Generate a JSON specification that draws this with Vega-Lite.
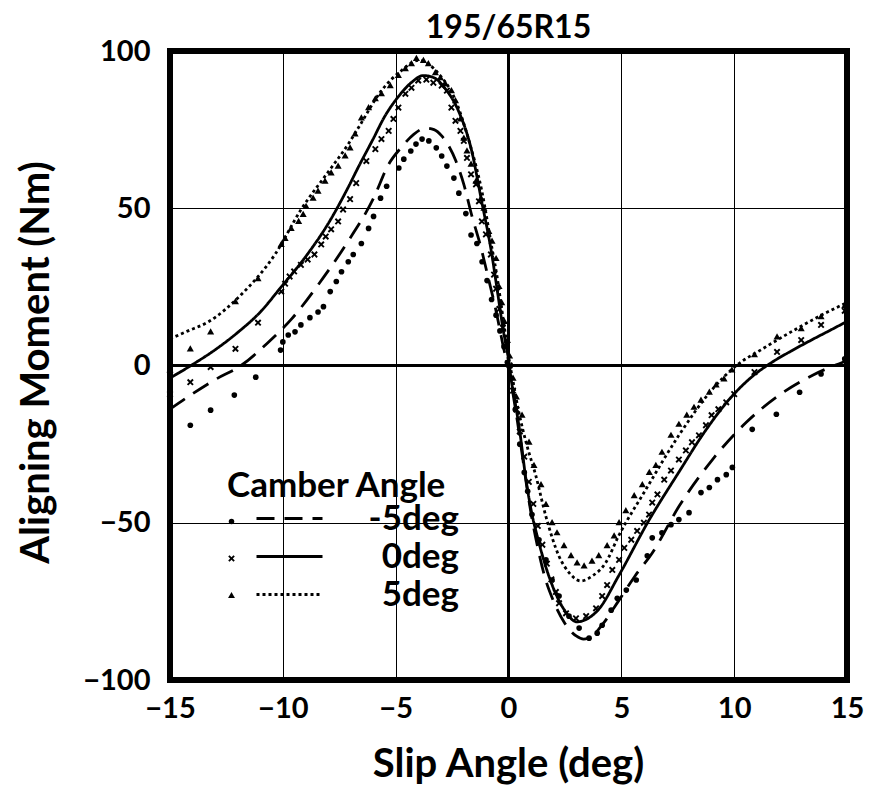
{
  "$schema": "https://vega.github.io/schema/vega-lite/v6.json",
  "autosize": {"type": "none"},
  "padding": {"left": 170, "top": 51, "right": 22, "bottom": 107},
  "width": 677,
  "height": 629,
  "background": "white",
  "title": {"text": "195/65R15", "font": "Lato", "fontSize": 32, "fontWeight": "bold", "color": "black", "anchor": "middle", "offset": -8},
  "config": {
    "view": {"stroke": "black", "strokeWidth": 6},
    "axis": {"labelFont": "Lato", "labelFontWeight": "bold", "labelFontSize": 29, "labelColor": "black", "titleFont": "Lato", "titleFontWeight": "bold", "titleFontSize": 40, "titleColor": "black", "grid": true, "gridColor": "black", "gridWidth": 1, "gridOpacity": 1, "ticks": false, "domain": false, "labelFlush": false, "labelOverlap": false, "labelBound": false},
    "legend": {"labelFont": "Lato", "labelFontWeight": "bold", "labelFontSize": 35, "labelColor": "black", "titleFont": "Lato", "titleFontWeight": "bold", "titleFontSize": 35, "titleColor": "black", "padding": 0, "titleLimit": 500, "labelLimit": 300}
  },
  "datasets": {
    "pts": [
      {"s": -15, "m": -23.8, "c": "-5deg"}, {"s": -14.1, "m": -19, "c": "-5deg"}, {"s": -13.2, "m": -14.2, "c": "-5deg"}, {"s": -12.15, "m": -9.4, "c": "-5deg"}, {"s": -11.2, "m": -3.7, "c": "-5deg"}, {"s": -10.1, "m": 4.9, "c": "-5deg"}, {"s": -10.0, "m": 7.5, "c": "-5deg"}, {"s": -9.76, "m": 9.7, "c": "-5deg"}, {"s": -9.46, "m": 10.7, "c": "-5deg"}, {"s": -9.2, "m": 12.9, "c": "-5deg"}, {"s": -8.8, "m": 15.2, "c": "-5deg"}, {"s": -8.44, "m": 17, "c": "-5deg"}, {"s": -8.2, "m": 18.7, "c": "-5deg"}, {"s": -7.9, "m": 23.5, "c": "-5deg"}, {"s": -7.63, "m": 26.7, "c": "-5deg"}, {"s": -7.4, "m": 29.8, "c": "-5deg"}, {"s": -7.1, "m": 33, "c": "-5deg"}, {"s": -6.88, "m": 35.3, "c": "-5deg"}, {"s": -6.52, "m": 38.8, "c": "-5deg"}, {"s": -6.2, "m": 43.6, "c": "-5deg"}, {"s": -5.98, "m": 47.4, "c": "-5deg"}, {"s": -5.67, "m": 53.2, "c": "-5deg"}, {"s": -5.4, "m": 57, "c": "-5deg"}, {"s": -4.86, "m": 62.8, "c": "-5deg"}, {"s": -4.64, "m": 65.6, "c": "-5deg"}, {"s": -4.33, "m": 68.2, "c": "-5deg"}, {"s": -4.1, "m": 70.4, "c": "-5deg"}, {"s": -3.83, "m": 72, "c": "-5deg"}, {"s": -3.53, "m": 71.4, "c": "-5deg"}, {"s": -3.2, "m": 69.2, "c": "-5deg"}, {"s": -2.96, "m": 66.6, "c": "-5deg"}, {"s": -2.73, "m": 63.4, "c": "-5deg"}, {"s": -2.42, "m": 59.6, "c": "-5deg"}, {"s": -2.2, "m": 54.8, "c": "-5deg"}, {"s": -1.89, "m": 48.3, "c": "-5deg"}, {"s": -1.66, "m": 41.5, "c": "-5deg"}, {"s": -1.4, "m": 38.8, "c": "-5deg"}, {"s": -1.17, "m": 33, "c": "-5deg"}, {"s": -0.95, "m": 27, "c": "-5deg"}, {"s": -0.75, "m": 21, "c": "-5deg"}, {"s": -0.55, "m": 16, "c": "-5deg"}, {"s": -0.38, "m": 11, "c": "-5deg"}, {"s": -0.2, "m": 6, "c": "-5deg"}, {"s": -0.05, "m": 1, "c": "-5deg"}, {"s": 0.1, "m": -4, "c": "-5deg"}, {"s": 0.3, "m": -14, "c": "-5deg"}, {"s": 0.5, "m": -25, "c": "-5deg"}, {"s": 0.7, "m": -34, "c": "-5deg"}, {"s": 0.85, "m": -40, "c": "-5deg"}, {"s": 1.04, "m": -47.4, "c": "-5deg"}, {"s": 1.35, "m": -55.4, "c": "-5deg"}, {"s": 1.66, "m": -61.8, "c": "-5deg"}, {"s": 1.93, "m": -68.2, "c": "-5deg"}, {"s": 2.24, "m": -73.3, "c": "-5deg"}, {"s": 2.68, "m": -79.7, "c": "-5deg"}, {"s": 3.13, "m": -83.5, "c": "-5deg"}, {"s": 3.57, "m": -86.7, "c": "-5deg"}, {"s": 3.93, "m": -85.1, "c": "-5deg"}, {"s": 4.15, "m": -82.6, "c": "-5deg"}, {"s": 4.55, "m": -77.8, "c": "-5deg"}, {"s": 4.82, "m": -74, "c": "-5deg"}, {"s": 5.22, "m": -71.4, "c": "-5deg"}, {"s": 5.66, "m": -68.2, "c": "-5deg"}, {"s": 6.15, "m": -60.5, "c": "-5deg"}, {"s": 6.37, "m": -54.8, "c": "-5deg"}, {"s": 6.8, "m": -53.2, "c": "-5deg"}, {"s": 7.2, "m": -50.6, "c": "-5deg"}, {"s": 7.55, "m": -49, "c": "-5deg"}, {"s": 8.0, "m": -46.8, "c": "-5deg"}, {"s": 8.53, "m": -40.4, "c": "-5deg"}, {"s": 8.9, "m": -38.8, "c": "-5deg"}, {"s": 9.26, "m": -36.3, "c": "-5deg"}, {"s": 9.65, "m": -34.7, "c": "-5deg"}, {"s": 9.92, "m": -32.4, "c": "-5deg"}, {"s": 10.8, "m": -20.3, "c": "-5deg"}, {"s": 11.87, "m": -15.5, "c": "-5deg"}, {"s": 12.9, "m": -8.5, "c": "-5deg"}, {"s": 13.85, "m": -2.7, "c": "-5deg"}, {"s": 14.9, "m": 2.1, "c": "-5deg"},
      {"s": -15, "m": -9.1, "c": "0deg"}, {"s": -14.1, "m": -5.3, "c": "0deg"}, {"s": -13.2, "m": -0.5, "c": "0deg"}, {"s": -12.1, "m": 5.3, "c": "0deg"}, {"s": -11.1, "m": 13.6, "c": "0deg"}, {"s": -10.07, "m": 23.5, "c": "0deg"}, {"s": -9.9, "m": 26, "c": "0deg"}, {"s": -9.7, "m": 28.3, "c": "0deg"}, {"s": -9.5, "m": 29.9, "c": "0deg"}, {"s": -9.2, "m": 32, "c": "0deg"}, {"s": -8.9, "m": 33.7, "c": "0deg"}, {"s": -8.6, "m": 35.3, "c": "0deg"}, {"s": -8.3, "m": 38.5, "c": "0deg"}, {"s": -8.1, "m": 41, "c": "0deg"}, {"s": -7.86, "m": 43.3, "c": "0deg"}, {"s": -7.55, "m": 45.8, "c": "0deg"}, {"s": -7.33, "m": 49.6, "c": "0deg"}, {"s": -7.02, "m": 52.9, "c": "0deg"}, {"s": -6.75, "m": 58, "c": "0deg"}, {"s": -6.3, "m": 65, "c": "0deg"}, {"s": -5.9, "m": 68.8, "c": "0deg"}, {"s": -5.63, "m": 72, "c": "0deg"}, {"s": -5.31, "m": 74.6, "c": "0deg"}, {"s": -5.1, "m": 78.4, "c": "0deg"}, {"s": -4.88, "m": 82, "c": "0deg"}, {"s": -4.57, "m": 86.4, "c": "0deg"}, {"s": -4.3, "m": 88.3, "c": "0deg"}, {"s": -4.0, "m": 90.6, "c": "0deg"}, {"s": -3.64, "m": 90.9, "c": "0deg"}, {"s": -3.33, "m": 89.9, "c": "0deg"}, {"s": -2.96, "m": 89, "c": "0deg"}, {"s": -2.73, "m": 87.4, "c": "0deg"}, {"s": -2.53, "m": 82, "c": "0deg"}, {"s": -2.35, "m": 77.8, "c": "0deg"}, {"s": -2.13, "m": 74.6, "c": "0deg"}, {"s": -1.98, "m": 71.4, "c": "0deg"}, {"s": -1.84, "m": 66, "c": "0deg"}, {"s": -1.66, "m": 60.8, "c": "0deg"}, {"s": -1.44, "m": 57.6, "c": "0deg"}, {"s": -1.31, "m": 52.2, "c": "0deg"}, {"s": -1.18, "m": 45.8, "c": "0deg"}, {"s": -1.0, "m": 41.7, "c": "0deg"}, {"s": -0.78, "m": 35.3, "c": "0deg"}, {"s": -0.64, "m": 28.9, "c": "0deg"}, {"s": -0.55, "m": 24.4, "c": "0deg"}, {"s": -0.4, "m": 18, "c": "0deg"}, {"s": -0.25, "m": 12, "c": "0deg"}, {"s": -0.1, "m": 6, "c": "0deg"}, {"s": 0.05, "m": 0, "c": "0deg"}, {"s": 0.2, "m": -8, "c": "0deg"}, {"s": 0.35, "m": -14, "c": "0deg"}, {"s": 0.5, "m": -21, "c": "0deg"}, {"s": 0.7, "m": -29, "c": "0deg"}, {"s": 0.9, "m": -37, "c": "0deg"}, {"s": 1.1, "m": -44, "c": "0deg"}, {"s": 1.3, "m": -51, "c": "0deg"}, {"s": 1.5, "m": -57, "c": "0deg"}, {"s": 1.7, "m": -63, "c": "0deg"}, {"s": 1.9, "m": -68, "c": "0deg"}, {"s": 2.1, "m": -72, "c": "0deg"}, {"s": 2.24, "m": -75.6, "c": "0deg"}, {"s": 2.55, "m": -78.8, "c": "0deg"}, {"s": 2.99, "m": -80.4, "c": "0deg"}, {"s": 3.44, "m": -79.7, "c": "0deg"}, {"s": 3.88, "m": -77.2, "c": "0deg"}, {"s": 4.15, "m": -73.3, "c": "0deg"}, {"s": 4.37, "m": -69.8, "c": "0deg"}, {"s": 4.6, "m": -65, "c": "0deg"}, {"s": 4.9, "m": -61.8, "c": "0deg"}, {"s": 5.13, "m": -58, "c": "0deg"}, {"s": 5.44, "m": -55.4, "c": "0deg"}, {"s": 5.7, "m": -52.6, "c": "0deg"}, {"s": 6.0, "m": -50, "c": "0deg"}, {"s": 6.23, "m": -47.4, "c": "0deg"}, {"s": 6.37, "m": -43.6, "c": "0deg"}, {"s": 6.6, "m": -41, "c": "0deg"}, {"s": 6.9, "m": -36.3, "c": "0deg"}, {"s": 7.2, "m": -33.4, "c": "0deg"}, {"s": 7.55, "m": -29.9, "c": "0deg"}, {"s": 7.86, "m": -27, "c": "0deg"}, {"s": 8.13, "m": -24.4, "c": "0deg"}, {"s": 8.44, "m": -22.2, "c": "0deg"}, {"s": 8.75, "m": -19, "c": "0deg"}, {"s": 9.0, "m": -15.8, "c": "0deg"}, {"s": 9.3, "m": -13.9, "c": "0deg"}, {"s": 9.65, "m": -11.7, "c": "0deg"}, {"s": 10.0, "m": -9.1, "c": "0deg"}, {"s": 10.9, "m": -2.1, "c": "0deg"}, {"s": 11.9, "m": 4.3, "c": "0deg"}, {"s": 12.97, "m": 8.1, "c": "0deg"}, {"s": 13.85, "m": 12.9, "c": "0deg"}, {"s": 14.9, "m": 17.4, "c": "0deg"},
      {"s": -15, "m": -1.4, "c": "5deg"}, {"s": -14.1, "m": 5.3, "c": "5deg"}, {"s": -13.2, "m": 10.7, "c": "5deg"}, {"s": -12.1, "m": 20.3, "c": "5deg"}, {"s": -11.1, "m": 27.6, "c": "5deg"}, {"s": -10.07, "m": 38.5, "c": "5deg"}, {"s": -9.9, "m": 40.4, "c": "5deg"}, {"s": -9.63, "m": 43.6, "c": "5deg"}, {"s": -9.3, "m": 45.8, "c": "5deg"}, {"s": -9.1, "m": 48, "c": "5deg"}, {"s": -8.97, "m": 50.6, "c": "5deg"}, {"s": -8.66, "m": 53.2, "c": "5deg"}, {"s": -8.44, "m": 55.4, "c": "5deg"}, {"s": -8.13, "m": 58.6, "c": "5deg"}, {"s": -7.86, "m": 61.2, "c": "5deg"}, {"s": -7.55, "m": 63.4, "c": "5deg"}, {"s": -7.24, "m": 66.6, "c": "5deg"}, {"s": -7.02, "m": 69.2, "c": "5deg"}, {"s": -6.8, "m": 73.6, "c": "5deg"}, {"s": -6.52, "m": 78.7, "c": "5deg"}, {"s": -6.2, "m": 82, "c": "5deg"}, {"s": -5.9, "m": 84.8, "c": "5deg"}, {"s": -5.63, "m": 86.4, "c": "5deg"}, {"s": -5.24, "m": 89, "c": "5deg"}, {"s": -4.88, "m": 92.2, "c": "5deg"}, {"s": -4.57, "m": 94.4, "c": "5deg"}, {"s": -4.3, "m": 96, "c": "5deg"}, {"s": -4.08, "m": 97.6, "c": "5deg"}, {"s": -3.77, "m": 97, "c": "5deg"}, {"s": -3.55, "m": 96, "c": "5deg"}, {"s": -3.24, "m": 93.1, "c": "5deg"}, {"s": -3.02, "m": 91.5, "c": "5deg"}, {"s": -2.8, "m": 89.6, "c": "5deg"}, {"s": -2.53, "m": 87.4, "c": "5deg"}, {"s": -2.35, "m": 84.2, "c": "5deg"}, {"s": -2.13, "m": 78.4, "c": "5deg"}, {"s": -1.98, "m": 72.3, "c": "5deg"}, {"s": -1.84, "m": 68.2, "c": "5deg"}, {"s": -1.66, "m": 64, "c": "5deg"}, {"s": -1.44, "m": 58.6, "c": "5deg"}, {"s": -1.22, "m": 53.2, "c": "5deg"}, {"s": -1.09, "m": 50, "c": "5deg"}, {"s": -0.87, "m": 42.6, "c": "5deg"}, {"s": -0.73, "m": 39.5, "c": "5deg"}, {"s": -0.55, "m": 34, "c": "5deg"}, {"s": -0.42, "m": 25.1, "c": "5deg"}, {"s": -0.3, "m": 20, "c": "5deg"}, {"s": -0.18, "m": 14, "c": "5deg"}, {"s": -0.05, "m": 8, "c": "5deg"}, {"s": 0.05, "m": 3, "c": "5deg"}, {"s": 0.2, "m": -4, "c": "5deg"}, {"s": 0.35, "m": -10, "c": "5deg"}, {"s": 0.6, "m": -15.8, "c": "5deg"}, {"s": 0.91, "m": -24.4, "c": "5deg"}, {"s": 1.13, "m": -31.8, "c": "5deg"}, {"s": 1.44, "m": -37.9, "c": "5deg"}, {"s": 1.66, "m": -44.2, "c": "5deg"}, {"s": 1.93, "m": -50, "c": "5deg"}, {"s": 2.15, "m": -53.2, "c": "5deg"}, {"s": 2.46, "m": -57.3, "c": "5deg"}, {"s": 2.77, "m": -60.5, "c": "5deg"}, {"s": 3.04, "m": -62.8, "c": "5deg"}, {"s": 3.35, "m": -63.7, "c": "5deg"}, {"s": 3.7, "m": -62.2, "c": "5deg"}, {"s": 4.0, "m": -60.5, "c": "5deg"}, {"s": 4.37, "m": -57.3, "c": "5deg"}, {"s": 4.68, "m": -54.2, "c": "5deg"}, {"s": 4.9, "m": -50, "c": "5deg"}, {"s": 5.2, "m": -46.2, "c": "5deg"}, {"s": 5.57, "m": -41.4, "c": "5deg"}, {"s": 5.93, "m": -37.9, "c": "5deg"}, {"s": 6.24, "m": -34, "c": "5deg"}, {"s": 6.53, "m": -31.8, "c": "5deg"}, {"s": 6.8, "m": -27.6, "c": "5deg"}, {"s": 7.2, "m": -22.2, "c": "5deg"}, {"s": 7.55, "m": -18.7, "c": "5deg"}, {"s": 7.9, "m": -15.8, "c": "5deg"}, {"s": 8.22, "m": -13.3, "c": "5deg"}, {"s": 8.53, "m": -11, "c": "5deg"}, {"s": 8.9, "m": -8.5, "c": "5deg"}, {"s": 9.2, "m": -6.2, "c": "5deg"}, {"s": 9.55, "m": -4.3, "c": "5deg"}, {"s": 9.9, "m": -1.4, "c": "5deg"}, {"s": 10.9, "m": 3.4, "c": "5deg"}, {"s": 11.9, "m": 9.1, "c": "5deg"}, {"s": 12.97, "m": 11.7, "c": "5deg"}, {"s": 13.85, "m": 15.5, "c": "5deg"}, {"s": 14.9, "m": 19, "c": "5deg"}
    ],
    "fit": [
      {"s": -15, "m": -13.9, "c": "-5deg"}, {"s": -14, "m": -9, "c": "-5deg"}, {"s": -13, "m": -4.5, "c": "-5deg"}, {"s": -11.85, "m": 0, "c": "-5deg"}, {"s": -10.7, "m": 7, "c": "-5deg"}, {"s": -9.6, "m": 14.9, "c": "-5deg"}, {"s": -8.4, "m": 26, "c": "-5deg"}, {"s": -7.2, "m": 38.5, "c": "-5deg"}, {"s": -5.98, "m": 53.2, "c": "-5deg"}, {"s": -5.31, "m": 64, "c": "-5deg"}, {"s": -4.73, "m": 69.5, "c": "-5deg"}, {"s": -4.2, "m": 73.5, "c": "-5deg"}, {"s": -3.67, "m": 75.5, "c": "-5deg"}, {"s": -3.3, "m": 75, "c": "-5deg"}, {"s": -2.96, "m": 73, "c": "-5deg"}, {"s": -2.33, "m": 65, "c": "-5deg"}, {"s": -1.98, "m": 57.6, "c": "-5deg"}, {"s": -1.62, "m": 47.5, "c": "-5deg"}, {"s": -1.22, "m": 37.5, "c": "-5deg"}, {"s": -1.0, "m": 31, "c": "-5deg"}, {"s": -0.8, "m": 25, "c": "-5deg"}, {"s": -0.6, "m": 19, "c": "-5deg"}, {"s": -0.4, "m": 12, "c": "-5deg"}, {"s": -0.2, "m": 5, "c": "-5deg"}, {"s": 0, "m": -1, "c": "-5deg"}, {"s": 0.2, "m": -9, "c": "-5deg"}, {"s": 0.4, "m": -18, "c": "-5deg"}, {"s": 0.6, "m": -28, "c": "-5deg"}, {"s": 0.8, "m": -38, "c": "-5deg"}, {"s": 1.0, "m": -47, "c": "-5deg"}, {"s": 1.3, "m": -58, "c": "-5deg"}, {"s": 1.6, "m": -67, "c": "-5deg"}, {"s": 2.0, "m": -75, "c": "-5deg"}, {"s": 2.5, "m": -82, "c": "-5deg"}, {"s": 3.0, "m": -86, "c": "-5deg"}, {"s": 3.33, "m": -87, "c": "-5deg"}, {"s": 3.7, "m": -86, "c": "-5deg"}, {"s": 4.2, "m": -82, "c": "-5deg"}, {"s": 4.9, "m": -74.6, "c": "-5deg"}, {"s": 5.6, "m": -67, "c": "-5deg"}, {"s": 6.37, "m": -59.6, "c": "-5deg"}, {"s": 7.57, "m": -44.6, "c": "-5deg"}, {"s": 9.04, "m": -29.9, "c": "-5deg"}, {"s": 10.55, "m": -18, "c": "-5deg"}, {"s": 12.0, "m": -9.4, "c": "-5deg"}, {"s": 13.5, "m": -3, "c": "-5deg"}, {"s": 15, "m": 1.5, "c": "-5deg"},
      {"s": -15, "m": -4, "c": "0deg"}, {"s": -14.07, "m": 0, "c": "0deg"}, {"s": -13, "m": 5, "c": "0deg"}, {"s": -12, "m": 10.5, "c": "0deg"}, {"s": -11, "m": 17, "c": "0deg"}, {"s": -10.07, "m": 25, "c": "0deg"}, {"s": -9, "m": 34.5, "c": "0deg"}, {"s": -8, "m": 45, "c": "0deg"}, {"s": -7.1, "m": 56.7, "c": "0deg"}, {"s": -6.66, "m": 63, "c": "0deg"}, {"s": -6, "m": 72, "c": "0deg"}, {"s": -5.5, "m": 79, "c": "0deg"}, {"s": -4.88, "m": 85.5, "c": "0deg"}, {"s": -4.3, "m": 90, "c": "0deg"}, {"s": -3.77, "m": 92.2, "c": "0deg"}, {"s": -3.3, "m": 91.5, "c": "0deg"}, {"s": -2.8, "m": 88, "c": "0deg"}, {"s": -2.22, "m": 81, "c": "0deg"}, {"s": -1.64, "m": 68.5, "c": "0deg"}, {"s": -1.2, "m": 52.6, "c": "0deg"}, {"s": -0.75, "m": 35.8, "c": "0deg"}, {"s": -0.5, "m": 24, "c": "0deg"}, {"s": -0.25, "m": 12, "c": "0deg"}, {"s": 0, "m": 2, "c": "0deg"}, {"s": 0.13, "m": -5, "c": "0deg"}, {"s": 0.3, "m": -12, "c": "0deg"}, {"s": 0.5, "m": -21, "c": "0deg"}, {"s": 0.75, "m": -35, "c": "0deg"}, {"s": 1.02, "m": -46.6, "c": "0deg"}, {"s": 1.3, "m": -55, "c": "0deg"}, {"s": 1.64, "m": -63.7, "c": "0deg"}, {"s": 2.0, "m": -71, "c": "0deg"}, {"s": 2.53, "m": -78.3, "c": "0deg"}, {"s": 3.02, "m": -81.5, "c": "0deg"}, {"s": 3.5, "m": -80.5, "c": "0deg"}, {"s": 4.0, "m": -77.5, "c": "0deg"}, {"s": 4.88, "m": -66.9, "c": "0deg"}, {"s": 6.21, "m": -49.4, "c": "0deg"}, {"s": 7.55, "m": -33.9, "c": "0deg"}, {"s": 8.7, "m": -21, "c": "0deg"}, {"s": 9.9, "m": -9.8, "c": "0deg"}, {"s": 10.8, "m": -3.5, "c": "0deg"}, {"s": 11.67, "m": 1, "c": "0deg"}, {"s": 12.5, "m": 4.5, "c": "0deg"}, {"s": 13.45, "m": 8.2, "c": "0deg"}, {"s": 14.2, "m": 11, "c": "0deg"}, {"s": 15, "m": 14, "c": "0deg"},
      {"s": -15, "m": 8.5, "c": "5deg"}, {"s": -14.2, "m": 11, "c": "5deg"}, {"s": -13.3, "m": 13.9, "c": "5deg"}, {"s": -11.85, "m": 22.5, "c": "5deg"}, {"s": -10.35, "m": 35.3, "c": "5deg"}, {"s": -9.2, "m": 49.5, "c": "5deg"}, {"s": -7.86, "m": 62.8, "c": "5deg"}, {"s": -7.1, "m": 70.4, "c": "5deg"}, {"s": -6.66, "m": 75.5, "c": "5deg"}, {"s": -5.63, "m": 87.4, "c": "5deg"}, {"s": -4.74, "m": 93.8, "c": "5deg"}, {"s": -3.99, "m": 97, "c": "5deg"}, {"s": -3.1, "m": 92.8, "c": "5deg"}, {"s": -2.33, "m": 84, "c": "5deg"}, {"s": -1.75, "m": 71.4, "c": "5deg"}, {"s": -1.18, "m": 55.4, "c": "5deg"}, {"s": -0.73, "m": 37.2, "c": "5deg"}, {"s": -0.5, "m": 28, "c": "5deg"}, {"s": -0.3, "m": 18, "c": "5deg"}, {"s": -0.1, "m": 8, "c": "5deg"}, {"s": 0, "m": 3, "c": "5deg"}, {"s": 0.2, "m": -5, "c": "5deg"}, {"s": 0.46, "m": -14.9, "c": "5deg"}, {"s": 0.8, "m": -25, "c": "5deg"}, {"s": 1.21, "m": -35, "c": "5deg"}, {"s": 1.65, "m": -47.8, "c": "5deg"}, {"s": 2.23, "m": -60.5, "c": "5deg"}, {"s": 2.7, "m": -66, "c": "5deg"}, {"s": 3.2, "m": -68.5, "c": "5deg"}, {"s": 3.7, "m": -67, "c": "5deg"}, {"s": 4.3, "m": -62.8, "c": "5deg"}, {"s": 4.88, "m": -54.2, "c": "5deg"}, {"s": 6.08, "m": -39.5, "c": "5deg"}, {"s": 7.55, "m": -22.2, "c": "5deg"}, {"s": 9.04, "m": -7.5, "c": "5deg"}, {"s": 10.1, "m": 0, "c": "5deg"}, {"s": 11.26, "m": 5.3, "c": "5deg"}, {"s": 12.77, "m": 11.7, "c": "5deg"}, {"s": 14, "m": 16.5, "c": "5deg"}, {"s": 15, "m": 20, "c": "5deg"}
    ]
  },
  "layer": [
    {
      "data": {"values": [{"z": 0}]},
      "mark": {"type": "rule", "color": "black", "strokeWidth": 3},
      "encoding": {"x": {"field": "z", "type": "quantitative"}}
    },
    {
      "data": {"values": [{"z": 0}]},
      "mark": {"type": "rule", "color": "black", "strokeWidth": 3},
      "encoding": {"y": {"field": "z", "type": "quantitative"}}
    },
    {
      "data": {"name": "fit"},
      "mark": {"type": "line", "color": "black", "strokeWidth": 2.8, "strokeCap": "butt", "interpolate": "monotone"},
      "encoding": {
        "x": {"field": "s", "type": "quantitative", "scale": {"domain": [-15, 15], "nice": false}, "axis": {"values": [-15, -10, -5, 0, 5, 10, 15], "title": "Slip Angle (deg)", "labelPadding": 14, "titleX": 338, "titleY": 84, "titleBaseline": "middle"}},
        "y": {"field": "m", "type": "quantitative", "scale": {"domain": [-100, 100], "nice": false}, "axis": {"values": [-100, -50, 0, 50, 100], "title": "Aligning Moment (Nm)", "labelPadding": 20, "titleX": -134, "titleY": 311, "titleBaseline": "middle", "titleAngle": -90}},
        "strokeDash": {"field": "c", "type": "nominal", "scale": {"range": [[18, 10], [1, 0], [3, 3]]}, "legend": {"orient": "none", "legendX": 102, "legendY": 450, "title": null, "symbolType": "M-3,0L3,0", "symbolSize": 484, "symbolStrokeWidth": 3, "symbolStrokeColor": "black", "symbolFillColor": "transparent", "labelAlign": "right", "labelOffset": 152, "rowPadding": 2}}
      }
    },
    {
      "data": {"name": "pts"},
      "mark": {"type": "point", "filled": true, "color": "black", "opacity": 1, "size": 32},
      "encoding": {
        "x": {"field": "s", "type": "quantitative"},
        "y": {"field": "m", "type": "quantitative"},
        "shape": {"field": "c", "type": "nominal", "scale": {"domain": ["-5deg", "0deg", "5deg"], "range": ["circle", "M-1.2,-0.72L-0.72,-1.2L0,-0.48L0.72,-1.2L1.2,-0.72L0.48,0L1.2,0.72L0.72,1.2L0,0.48L-0.72,1.2L-1.2,0.72L-0.48,0Z", "M0,-1.3L1.25,0.9L-1.25,0.9Z"]}, "legend": {"orient": "none", "legendX": 57, "legendY": 418, "title": "Camber Angle", "titlePadding": 0, "symbolFillColor": "black", "symbolStrokeColor": "black", "symbolSize": 30, "symbolOffset": -13, "labelExpr": "''", "rowPadding": 1}}
      }
    }
  ]
}
